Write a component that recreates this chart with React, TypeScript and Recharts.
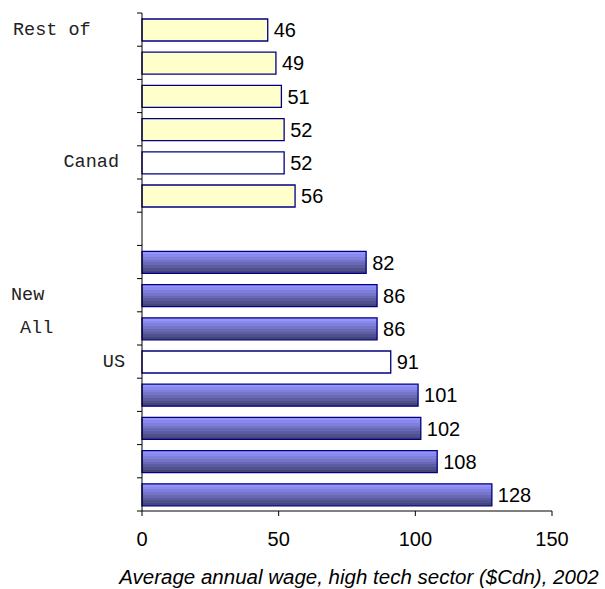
import { Bar, BarChart, Cell, LabelList, XAxis, YAxis } from 'recharts';

// Canadian regions (top), then US regions (bottom); a blank row separates them
const canadaValues = [46, 49, 51, 52, 52, 56];
const usValues = [82, 86, 86, 91, 101, 102, 108, 128];
const canadaLabels = ['Rest of', '', '', '', 'Canad', ''];
const usLabels = ['', 'New', 'All', 'US', '', '', '', ''];
const canadaHighlight = 4;
const usHighlight = 3;
const xTicks = [0, 50, 100, 150];
const xTitle = 'Average annual wage, high tech sector ($Cdn), 2002';

type Row = { id: string; label: string; value: number | null; group: 'ca' | 'gap' | 'us'; highlight: boolean };

const rows: Row[] = [
  ...canadaValues.map((value, i) => ({
    id: `ca${i}`,
    label: canadaLabels[i],
    value,
    group: 'ca' as const,
    highlight: i === canadaHighlight,
  })),
  { id: 'gap', label: '', value: null, group: 'gap', highlight: false },
  ...usValues.map((value, i) => ({
    id: `us${i}`,
    label: usLabels[i],
    value,
    group: 'us' as const,
    highlight: i === usHighlight,
  })),
];

// label placement for the left-side category text (anchor + x)
const labelPlacement: Record<string, { x: number; anchor: 'start' | 'end' }> = {
  ca0: { x: 13, anchor: 'start' },
  ca4: { x: 119, anchor: 'end' },
  us1: { x: 11, anchor: 'start' },
  us2: { x: 20, anchor: 'start' },
  us3: { x: 125, anchor: 'end' },
};

const CHART_W = 605;
const CHART_H = 589;
const AXIS_X = 142;
const PLOT_TOP = 13;
const PLOT_BOTTOM = 511;
const BAND = (PLOT_BOTTOM - PLOT_TOP) / rows.length;

function CategoryTick(props: any) {
  const { y, payload, index } = props;
  const id = String(payload?.value ?? '');
  const row = rows.find((r) => r.id === id);
  const place = labelPlacement[id];
  const half = BAND / 2;
  const isLast = index === rows.length - 1;

  return (
    <g>
      <line x1={AXIS_X - 5} x2={AXIS_X} y1={y - half} y2={y - half} stroke='#000' strokeWidth={1} />
      {isLast ? (
        <line x1={AXIS_X - 5} x2={AXIS_X} y1={y + half} y2={y + half} stroke='#000' strokeWidth={1} />
      ) : null}
      {row && row.label && place ? (
        <text
          x={place.x}
          y={y}
          dy={5}
          textAnchor={place.anchor}
          fontFamily="'Liberation Mono', 'Courier New', monospace"
          fontSize={18.5}
          fill='#222'
        >
          {row.label}
        </text>
      ) : null}
    </g>
  );
}

function barFill(row: Row) {
  if (row.highlight) return '#ffffff';
  if (row.group === 'ca') return '#ffffcc';
  return 'url(#usBands)';
}

const bandColors = ['#9494fa', '#8a8aee', '#8080dc', '#7474c8', '#6868b4', '#5c5ca0', '#50508c', '#45457a'];

export default function App() {
  return (
    <div style={{ position: 'absolute', left: 0, top: 0 }}>
      <BarChart
        width={CHART_W}
        height={CHART_H}
        data={rows}
        layout='vertical'
        margin={{ top: PLOT_TOP, right: 53, bottom: 0, left: 0 }}
        barCategoryGap={5}
      >
        <defs>
          <linearGradient id='usBands' x1='0' y1='0' x2='0' y2='1'>
            {bandColors.flatMap((c, i) => [
              <stop key={`a${i}`} offset={`${(i / bandColors.length) * 100}%`} stopColor={c} />,
              <stop key={`b${i}`} offset={`${((i + 1) / bandColors.length) * 100}%`} stopColor={c} />,
            ])}
          </linearGradient>
        </defs>

        <XAxis
          type='number'
          domain={[0, 150]}
          ticks={xTicks}
          height={CHART_H - PLOT_BOTTOM}
          axisLine={{ stroke: '#000' }}
          tickLine={{ stroke: '#000' }}
          tickSize={5}
          tick={{ fill: '#000', fontSize: 20, fontFamily: "'Liberation Sans', Arial, sans-serif", dy: 14 }}
          label={{
            value: xTitle,
            position: 'insideBottom',
            offset: 5,
            dx: 12,
            style: {
              fontStyle: 'italic',
              fontSize: 20.5,
              fill: '#000',
              fontFamily: "'Liberation Sans', Arial, sans-serif",
            },
          }}
        />

        <YAxis
          type='category'
          dataKey='id'
          width={AXIS_X}
          axisLine={{ stroke: '#000' }}
          tickLine={false}
          tick={<CategoryTick />}
          interval={0}
        />

        <Bar dataKey='value' barSize={22} stroke='#000080' strokeWidth={1.3} isAnimationActive={false}>
          {rows.map((row) => (
            <Cell key={row.id} fill={barFill(row)} />
          ))}
          <LabelList
            dataKey='value'
            position='right'
            offset={6}
            formatter={(v: any) => (v == null ? '' : v)}
            style={{ fill: '#000', fontSize: 20, fontFamily: "'Liberation Sans', Arial, sans-serif" }}
          />
        </Bar>
      </BarChart>
    </div>
  );
}
